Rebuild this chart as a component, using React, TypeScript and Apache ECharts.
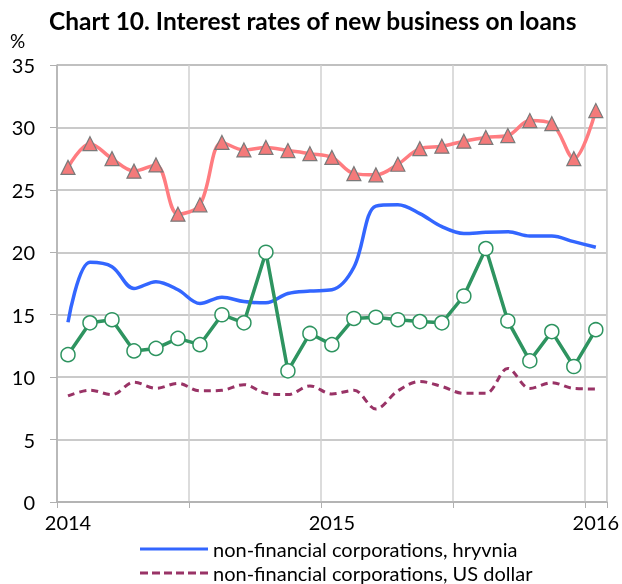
import React, { useEffect, useRef } from "react";
import * as echarts from "echarts";

const months = [
  "2014-01","2014-02","2014-03","2014-04","2014-05","2014-06","2014-07","2014-08","2014-09","2014-10","2014-11","2014-12",
  "2015-01","2015-02","2015-03","2015-04","2015-05","2015-06","2015-07","2015-08","2015-09","2015-10","2015-11","2015-12",
  "2016-01",
];

const redSeries = [26.8, 28.7, 27.5, 26.5, 27.0, 23.05, 23.8, 28.8, 28.2, 28.4, 28.15, 27.9, 27.6, 26.3, 26.2, 27.05, 28.3, 28.5, 28.9, 29.2, 29.35, 30.55, 30.3, 27.5, 31.35];
const hryvnia = [14.4, 19.2, 18.85, 17.1, 17.65, 17.0, 15.9, 16.4, 16.05, 15.95, 16.7, 16.9, 17.0, 18.8, 23.7, 23.8, 23.1, 22.05, 21.5, 21.6, 21.65, 21.3, 21.3, 20.85, 20.4];
const greenSeries = [11.8, 14.35, 14.6, 12.1, 12.3, 13.1, 12.6, 15.0, 14.35, 20.0, 10.5, 13.5, 12.6, 14.7, 14.8, 14.6, 14.45, 14.35, 16.5, 20.3, 14.5, 11.3, 13.65, 10.85, 13.8];
const usDollar = [8.5, 8.95, 8.6, 9.6, 9.1, 9.5, 8.9, 8.95, 9.4, 8.7, 8.6, 9.3, 8.65, 8.95, 7.45, 8.9, 9.65, 9.25, 8.7, 8.7, 10.7, 9.1, 9.55, 9.1, 9.05];

const nameRed = "households, hryvnia";
const nameHryvnia = "non-financial corporations, hryvnia";
const nameGreen = "households, US dollar";
const nameUsd = "non-financial corporations, US dollar";

const FONT = "Lato";

const solidIcon = "path://M0,0h68v3h-68z";
const dashedIcon =
  "path://M0,0h8v3h-8z M12,0h8v3h-8z M24,0h8v3h-8z M36,0h8v3h-8z M48,0h8v3h-8z M60,0h8v3h-8z";

export default function App() {
  const ref = useRef<HTMLDivElement>(null);
  useEffect(() => {
    if (!ref.current) return;
    const chart = echarts.init(ref.current, undefined, { renderer: "svg" });
    const legendBase = {
      orient: "horizontal",
      left: 140,
      padding: 0,
      itemWidth: 68,
      itemHeight: 3,
      itemGap: 6,
      textStyle: { fontFamily: FONT, fontSize: 20, lineHeight: 20, color: "#000" },
    };
    chart.setOption({
      animation: false,
      textStyle: { fontFamily: FONT },
      title: {
        text: "Chart 10. Interest rates of new business on loans",
        left: 44,
        top: 3,
        textStyle: { fontFamily: FONT, fontSize: 24.5, fontWeight: "bold", color: "#000" },
      },
      graphic: [
        { type: "text", left: 10, top: 31, style: { text: "%", fontFamily: FONT, fontSize: 19, fill: "#000" } },
      ],
      legend: [
        { ...legendBase, top: 539, data: [{ name: nameHryvnia, icon: solidIcon }] },
        { ...legendBase, top: 563, data: [{ name: nameUsd, icon: dashedIcon }] },
      ],
      grid: { left: 57, right: 15, top: 65, bottom: 82, show: true, borderColor: "#b0b0b0", borderWidth: 1 },
      xAxis: {
        type: "category",
        data: months,
        boundaryGap: true,
        axisLine: { lineStyle: { color: "#b0b0b0", width: 1.5 } },
        axisTick: { show: true, length: 6, interval: (i: number) => i % 6 === 0, lineStyle: { color: "#b0b0b0" } },
        splitLine: { show: true, interval: (i: number) => i % 6 === 0, lineStyle: { color: "#d0d0d0", width: 1.5 } },
        axisLabel: {
          interval: (i: number) => i % 12 === 0,
          formatter: (v: string) => v.slice(0, 4),
          fontFamily: FONT,
          fontSize: 20,
          color: "#000",
          margin: 10,
        },
      },
      yAxis: {
        type: "value",
        min: 0,
        max: 35,
        interval: 5,
        axisLine: { show: true, lineStyle: { color: "#b0b0b0", width: 1.5 } },
        axisTick: { show: true, length: 7, lineStyle: { color: "#b0b0b0" } },
        splitLine: { show: true, lineStyle: { color: "#b8b8b8", width: 1.5 } },
        axisLabel: { fontFamily: FONT, fontSize: 20, color: "#000", margin: 22 },
      },
      series: [
        {
          name: nameRed,
          type: "line",
          data: redSeries,
          smooth: 0.35,
          symbol: "triangle",
          symbolSize: 14,
          lineStyle: { color: "#ff7c80", width: 3.5 },
          itemStyle: { color: "#f47a7a", borderColor: "#7a7a7a", borderWidth: 1.2 },
          z: 3,
        },
        {
          name: nameHryvnia,
          type: "line",
          data: hryvnia,
          smooth: 0.35,
          showSymbol: false,
          symbol: "none",
          lineStyle: { color: "#3366ff", width: 3.5 },
          itemStyle: { color: "#3366ff" },
          z: 2,
        },
        {
          name: nameGreen,
          type: "line",
          data: greenSeries,
          smooth: false,
          symbol: "circle",
          symbolSize: 14,
          lineStyle: { color: "#2e9460", width: 3.5 },
          itemStyle: { color: "#ffffff", borderColor: "#2e9460", borderWidth: 1.5 },
          z: 4,
        },
        {
          name: nameUsd,
          type: "line",
          data: usDollar,
          smooth: 0.35,
          showSymbol: false,
          symbol: "none",
          lineStyle: { color: "#993366", width: 3, type: [7, 5] },
          itemStyle: { color: "#993366" },
          z: 2,
        },
      ],
    });
    return () => chart.dispose();
  }, []);
  return <div ref={ref} style={{ position: "fixed", left: 0, top: 0, width: 622, height: 584 }} />;
}
